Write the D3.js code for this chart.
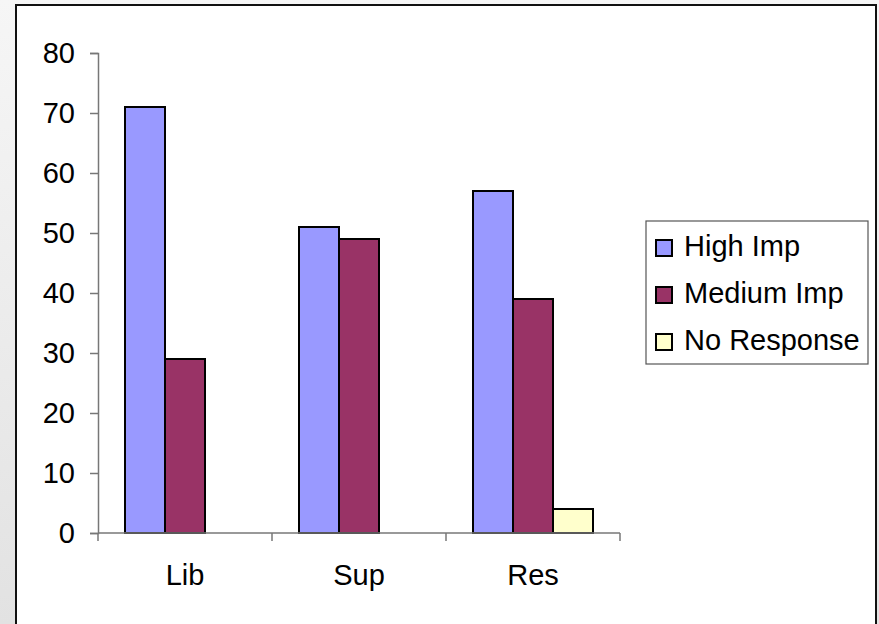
<!DOCTYPE html>
<html>
<head>
<meta charset="utf-8">
<script src="https://cdn.jsdelivr.net/npm/d3@7"></script>
<style>
  html, body { margin: 0; padding: 0; background: #fff; }
  svg { display: block; }
  text { font-family: "Liberation Sans", Arial, sans-serif; fill: #000; }
</style>
</head>
<body>
<svg id="chart" width="879" height="624"></svg>
<script>
const categories = ["Lib", "Sup", "Res"];
const seriesNames = ["High Imp", "Medium Imp", "No Response"];
const highImp = [71, 51, 57];
const mediumImp = [29, 49, 39];
const noResponse = [0, 0, 4];
const yTicks = [0, 10, 20, 30, 40, 50, 60, 70, 80];
const colors = ["#9999FF", "#993366", "#FFFFCC"];

const seriesValues = [highImp, mediumImp, noResponse];
const data = categories.map((c, i) => ({
  cat: c,
  vals: seriesNames.map((s, j) => ({ key: s, value: seriesValues[j][i] }))
}));

const svg = d3.select("#chart");
const W = 879, H = 624;
const FS = 29;

// background gradient
const defs = svg.append("defs");
const grad = defs.append("linearGradient").attr("id", "bg").attr("x1", 0).attr("y1", 0).attr("x2", 0).attr("y2", 1);
grad.append("stop").attr("offset", "0%").attr("stop-color", "#f6f6f6");
grad.append("stop").attr("offset", "100%").attr("stop-color", "#e2e2e2");
svg.append("rect").attr("width", W).attr("height", H).attr("fill", "url(#bg)");

// chart frame
svg.append("rect")
  .attr("x", 16).attr("y", 5)
  .attr("width", 860).attr("height", 640)
  .attr("fill", "#fff").attr("stroke", "#111").attr("stroke-width", 2);

const plot = { left: 98, right: 620, top: 53, bottom: 533 };

const x = d3.scaleBand().domain(categories).range([plot.left, plot.right]).paddingInner(0).paddingOuter(0);
const inner = d3.scaleBand().domain(seriesNames).range([0, x.bandwidth()]).paddingInner(0).paddingOuter(0.675);
const y = d3.scaleLinear().domain([0, 80]).range([plot.bottom, plot.top]);

// bars
const groups = svg.append("g").selectAll("g").data(data).join("g")
  .attr("transform", d => `translate(${x(d.cat)},0)`);
groups.selectAll("rect").data(d => d.vals.filter(v => v.value > 0)).join("rect")
  .attr("x", d => inner(d.key))
  .attr("width", inner.bandwidth())
  .attr("y", d => y(d.value))
  .attr("height", d => y(0) - y(d.value))
  .attr("fill", d => colors[seriesNames.indexOf(d.key)])
  .attr("stroke", "#000").attr("stroke-width", 2);

// y axis
const yAxis = d3.axisLeft(y).tickValues(yTicks).tickSize(8).tickPadding(15);
const yg = svg.append("g").attr("transform", `translate(${plot.left},0)`).call(yAxis);
yg.select(".domain").attr("stroke", "#777").attr("stroke-width", 1.5);
yg.selectAll(".tick line").attr("stroke", "#777").attr("stroke-width", 1.5);
yg.selectAll(".tick text").attr("font-size", FS).attr("font-family", '"Liberation Sans", Arial, sans-serif').attr("fill", "#000");

// x axis (category boundaries as ticks)
const xg = svg.append("g").attr("transform", `translate(0,${plot.bottom})`);
xg.append("line").attr("x1", plot.left).attr("x2", plot.right).attr("y1", 0).attr("y2", 0)
  .attr("stroke", "#777").attr("stroke-width", 1.5);
const bounds = categories.map(c => x(c)).concat([x(categories[categories.length - 1]) + x.bandwidth()]);
xg.selectAll("line.tk").data(bounds).join("line").attr("class", "tk")
  .attr("x1", d => d).attr("x2", d => d).attr("y1", 0).attr("y2", 8)
  .attr("stroke", "#777").attr("stroke-width", 1.5);
xg.selectAll("text.lbl").data(categories).join("text").attr("class", "lbl")
  .attr("x", d => x(d) + x.bandwidth() / 2)
  .attr("y", 52)
  .attr("text-anchor", "middle")
  .attr("font-size", FS)
  .text(d => d);

// legend
const lg = svg.append("g");
lg.append("rect").attr("x", 646).attr("y", 221).attr("width", 222).attr("height", 143)
  .attr("fill", "#fff").attr("stroke", "#555").attr("stroke-width", 1.2);
const rows = lg.selectAll("g.row").data(seriesNames).join("g").attr("class", "row")
  .attr("transform", (d, i) => `translate(656,${248 + i * 47})`);
rows.append("rect").attr("x", 0).attr("y", -8).attr("width", 16).attr("height", 16)
  .attr("fill", (d, i) => colors[i]).attr("stroke", "#000").attr("stroke-width", 2);
rows.append("text").attr("x", 28).attr("y", 8).attr("font-size", FS).text(d => d);
</script>
</body>
</html>
